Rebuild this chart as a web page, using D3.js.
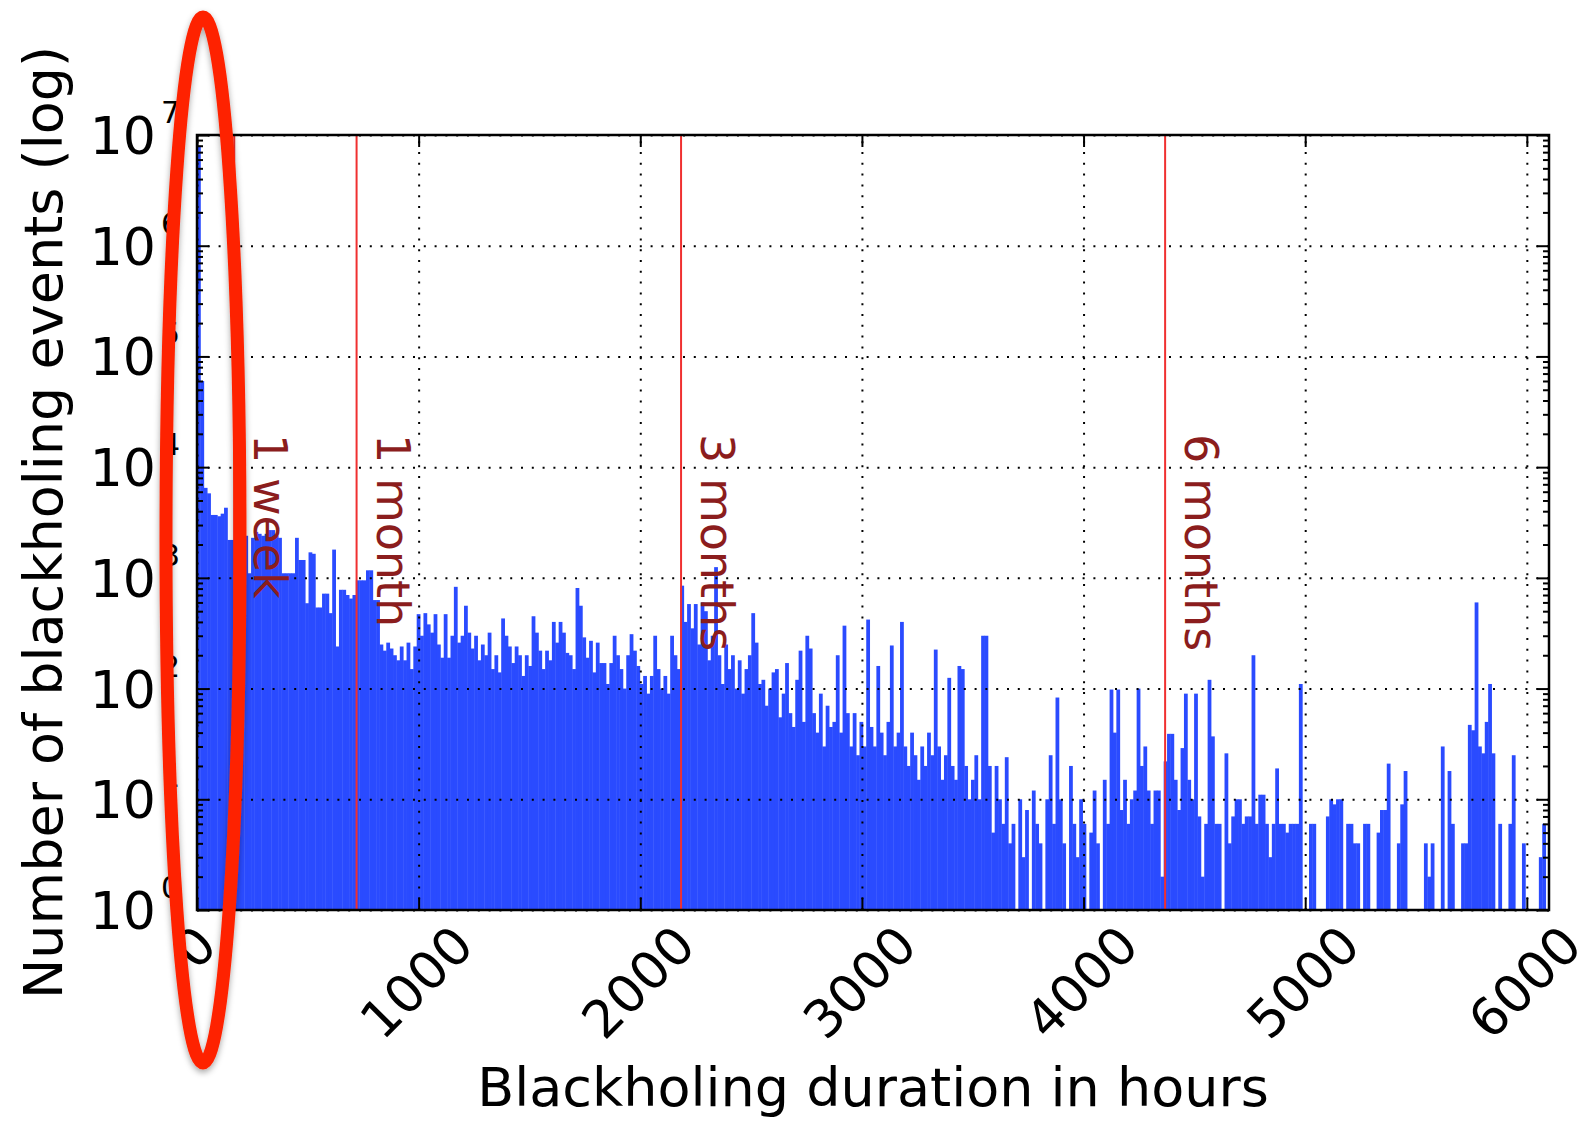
<!DOCTYPE html>
<html>
<head>
<meta charset="utf-8">
<script src="https://cdn.jsdelivr.net/npm/d3@7"></script>
<style>
  body { margin: 0; background: #fff; }
  svg { display: block; }
  text { font-family: "DejaVu Sans", sans-serif; }
</style>
</head>
<body>
<svg id="chart" width="1583" height="1122"></svg>
<script>
// blackholing durations, histogram with 15.25 h bins from 0 to 6100 h
var binWidth = 15.25;
var counts = [
  8000000, 60000, 6500, 5800, 3700, 3700, 3600, 3800, 4300, 2200, 2200, 2600, 2600, 2500, 2400, 1100, 2300, 2600, 2500, 2400,
  2500, 2700, 2700, 2400, 2300, 1100, 1100, 1100, 1100, 2300, 1450, 1450, 590, 1700, 1650, 540, 540, 720, 720, 480,
  1800, 240, 780, 780, 700, 650, 700, 950, 950, 950, 1170, 1170, 630, 630, 250, 220, 260, 230, 200, 180,
  240, 180, 260, 150, 240, 470, 300, 480, 380, 320, 470, 250, 190, 470, 190, 300, 830, 260, 300, 560,
  320, 230, 300, 180, 250, 200, 320, 150, 200, 140, 430, 300, 240, 170, 240, 200, 130, 200, 160, 450,
  320, 220, 150, 220, 180, 400, 260, 400, 320, 210, 200, 150, 810, 560, 290, 190, 270, 140, 260, 170,
  170, 110, 170, 300, 200, 150, 100, 200, 310, 220, 160, 110, 130, 90, 130, 300, 150, 100, 130, 90,
  300, 200, 150, 850, 400, 580, 350, 580, 250, 600, 500, 180, 300, 1250, 200, 110, 250, 150, 200, 100,
  180, 90, 150, 200, 480, 260, 110, 120, 70, 100, 140, 150, 55, 90, 170, 60, 45, 120, 220, 50,
  300, 230, 60, 40, 90, 30, 70, 45, 50, 200, 40, 370, 60, 30, 60, 25, 50, 30, 420, 45,
  30, 160, 40, 25, 50, 245, 30, 40, 400, 30, 20, 40, 25, 15, 30, 20, 40, 25, 225, 30,
  15, 25, 125, 20, 15, 160, 150, 20, 10, 15, 25, 10, 300, 300, 20, 5, 20, 10, 6, 24,
  4, 6, 0, 10, 3, 8, 0, 12, 6, 4, 0, 10, 25, 6, 83, 10, 4, 0, 20, 6,
  3, 10, 6, 0, 5, 12, 4, 0, 15, 6, 98, 40, 98, 8, 15, 6, 10, 12, 100, 20,
  30, 12, 6, 12, 12, 2, 22, 39, 39, 15, 8, 29, 90, 15, 10, 90, 7, 2, 6, 120,
  37, 6, 6, 0, 26, 4, 7, 10, 10, 6, 7, 7, 200, 6, 11, 11, 6, 3, 6, 19,
  6, 6, 5, 6, 6, 6, 110, 0, 0, 6, 6, 0, 0, 0, 7, 10, 9, 10, 10, 0,
  6, 6, 4, 4, 0, 6, 6, 0, 0, 5, 8, 8, 21, 0, 0, 4, 9, 18, 0, 0,
  0, 0, 0, 4, 2, 4, 0, 0, 30, 0, 18, 6, 0, 0, 4, 4, 47, 42, 600, 30,
  26, 50, 110, 26, 0, 6, 0, 0, 6, 25, 0, 0, 4, 0, 0, 0, 0, 3, 6, 0
];
var xTickValues = [0, 1000, 2000, 3000, 4000, 5000, 6000];
var yExponents = [0, 1, 2, 3, 4, 5, 6, 7];
var markerHours = [168, 720, 2184, 4368];
var markerLabels = ["1 week", "1 month", "3 months", "6 months"];

var svg = d3.select("#chart");
var plotLeft = 197, plotRight = 1549, plotTop = 135, plotBottom = 910;

var x = d3.scaleLinear().domain([0, 6100]).range([plotLeft, plotRight]);
var y = d3.scaleLog().domain([1, 1e7]).range([plotBottom, plotTop]);

var yMajor = yExponents.map(function(e) { return Math.pow(10, e); });
var yMinor = [];
yExponents.slice(0, -1).forEach(function(e) {
  for (var k = 2; k <= 9; k++) yMinor.push(k * Math.pow(10, e));
});

// bars
var bars = counts.map(function(c, i) { return {i: i, c: c}; })
  .filter(function(d) { return d.c > 1; });

svg.append("g").selectAll("rect")
  .data(bars)
  .enter().append("rect")
    .attr("x", function(d) { return x(d.i * binWidth); })
    .attr("width", function(d) { return x((d.i + 1) * binWidth) - x(d.i * binWidth) + 0.4; })
    .attr("y", function(d) { return y(d.c); })
    .attr("height", function(d) { return y(1) - y(d.c); })
    .attr("fill", "#2a4bff");

// dotted grid
var grid = svg.append("g").attr("class", "grid");
grid.append("g")
  .attr("transform", "translate(0," + plotBottom + ")")
  .call(d3.axisBottom(x).tickValues(xTickValues).tickSize(-(plotBottom - plotTop)).tickFormat(""));
grid.append("g")
  .attr("transform", "translate(" + plotLeft + ",0)")
  .call(d3.axisLeft(y).tickValues(yMajor).tickSize(-(plotRight - plotLeft)).tickFormat(""));
grid.selectAll(".domain").remove();
grid.selectAll("line")
  .attr("stroke", "#000")
  .attr("stroke-width", 2)
  .attr("stroke-dasharray", "2,8.8");

// marker lines
svg.append("g").selectAll("line")
  .data(markerHours)
  .enter().append("line")
    .attr("x1", function(d) { return x(d); })
    .attr("x2", function(d) { return x(d); })
    .attr("y1", plotTop)
    .attr("y2", plotBottom)
    .attr("stroke", "#f03030")
    .attr("stroke-width", 2);

svg.append("g").selectAll("text")
  .data(markerHours)
  .enter().append("text")
    .attr("transform", function(d) { return "translate(" + (x(d) + 20) + ",434) rotate(90)"; })
    .attr("font-size", 46)
    .attr("fill", "#8b1d1d")
    .text(function(d, i) { return markerLabels[i]; });

// inward ticks on all four sides
function tickStyle(g) {
  g.select(".domain").remove();
  g.selectAll("line").attr("stroke", "#000").attr("stroke-width", 2);
}
svg.append("g").attr("transform", "translate(0," + plotBottom + ")")
  .call(d3.axisBottom(x).tickValues(xTickValues).tickSize(-12).tickFormat("")).call(tickStyle);
svg.append("g").attr("transform", "translate(0," + plotTop + ")")
  .call(d3.axisTop(x).tickValues(xTickValues).tickSize(-12).tickFormat("")).call(tickStyle);
svg.append("g").attr("transform", "translate(" + plotLeft + ",0)")
  .call(d3.axisLeft(y).tickValues(yMajor).tickSize(-12).tickFormat("")).call(tickStyle);
svg.append("g").attr("transform", "translate(" + plotLeft + ",0)")
  .call(d3.axisLeft(y).tickValues(yMinor).tickSize(-6).tickFormat("")).call(tickStyle);
svg.append("g").attr("transform", "translate(" + plotRight + ",0)")
  .call(d3.axisRight(y).tickValues(yMajor).tickSize(-12).tickFormat("")).call(tickStyle);
svg.append("g").attr("transform", "translate(" + plotRight + ",0)")
  .call(d3.axisRight(y).tickValues(yMinor).tickSize(-6).tickFormat("")).call(tickStyle);

// frame
svg.append("rect")
  .attr("x", plotLeft).attr("y", plotTop)
  .attr("width", plotRight - plotLeft).attr("height", plotBottom - plotTop)
  .attr("fill", "none").attr("stroke", "#000").attr("stroke-width", 2.5);

// y tick labels 10^n
yExponents.forEach(function(e) {
  var t = svg.append("text")
    .attr("x", 180)
    .attr("y", y(Math.pow(10, e)) + 19)
    .attr("text-anchor", "end")
    .attr("font-size", 52);
  t.append("tspan").text("10");
  t.append("tspan").attr("dx", 5).attr("dy", -31).attr("font-size", 30).text(e);
});

// x tick labels rotated 45 degrees, bbox centred on the tick
xTickValues.forEach(function(v) {
  var t = svg.append("text")
    .attr("font-size", 52)
    .attr("text-anchor", "middle")
    .attr("dominant-baseline", "central")
    .text(v);
  var L = t.node().getComputedTextLength() - 0.1 * 52;
  var H = 0.729 * 52;
  var half = (L + H) / (2 * Math.SQRT2);
  t.attr("transform", "translate(" + (x(v) - 2) + "," + (924 + half) + ") rotate(-45)");
});

// axis titles
svg.append("text")
  .attr("x", (plotLeft + plotRight) / 2)
  .attr("y", 1106)
  .attr("text-anchor", "middle")
  .attr("font-size", 54)
  .text("Blackholing duration in hours");

svg.append("text")
  .attr("transform", "translate(62," + (plotTop + plotBottom) / 2 + ") rotate(-90)")
  .attr("text-anchor", "middle")
  .attr("font-size", 54)
  .text("Number of blackholing events (log)");

// red highlight ellipse
var defs = svg.append("defs");
var f = defs.append("filter").attr("id", "shadow").attr("x", "-50%").attr("y", "-10%").attr("width", "200%").attr("height", "120%");
f.append("feDropShadow").attr("dx", 0).attr("dy", 3).attr("stdDeviation", 3).attr("flood-color", "#000").attr("flood-opacity", 0.35);

svg.append("ellipse")
  .attr("cx", 203).attr("cy", 540)
  .attr("rx", 37).attr("ry", 523)
  .attr("fill", "none")
  .attr("stroke", "#fe2400")
  .attr("stroke-width", 13)
  .attr("filter", "url(#shadow)");
</script>
</body>
</html>
